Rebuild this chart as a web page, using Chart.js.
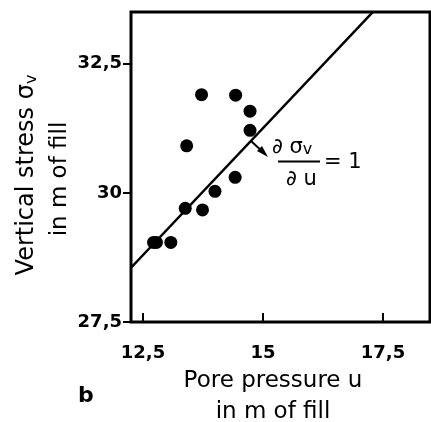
<!DOCTYPE html>
<html lang="en">
<head>
<meta charset="UTF-8">
<title>Vertical stress vs pore pressure</title>
<script src="https://cdn.jsdelivr.net/npm/chart.js"></script>
<style>
    html, body { margin: 0; padding: 0; background: #fff; }
    #wrap { width: 431px; height: 422px; }
</style>
</head>
<body>
<div id="wrap"><canvas id="stressChart" width="431" height="422"></canvas></div>
<script>
// measured points: pore pressure u and vertical stress σv (both in m of fill)
const poreU   = [12.72, 12.78, 13.08, 13.38, 13.74, 14.00, 14.42, 13.41, 13.72, 14.43, 14.73, 14.73];
const stressV = [29.04, 29.04, 29.04, 29.70, 29.67, 30.03, 30.30, 30.91, 31.90, 31.89, 31.58, 31.21];

// line with slope ∂σv/∂u = 1
const lineU      = [12.25, 17.35];
const lineStress = [28.55, 33.56];

// tick labels
const uTicks     = [12.5, 15, 17.5];
const sigmaTicks = [27.5, 30, 32.5];

const FONT = '"DejaVu Sans", sans-serif';

// 12.5 -> "12,5"
const commaDecimal = v => String(v).replace('.', ',');

// frame, inward ticks on the u axis, titles and the slope note
const extras = {
    id: 'extras',
    afterDraw(chart) {
        const ctx = chart.ctx;
        const { left, top, right, bottom } = chart.chartArea;
        const xs = chart.scales.x;
        ctx.save();
        ctx.strokeStyle = '#000';
        ctx.fillStyle = '#000';

        ctx.lineWidth = 3;
        ctx.strokeRect(left, top, right - left, bottom - top);

        ctx.lineWidth = 2;
        uTicks.forEach(v => {
            const px = xs.getPixelForValue(v);
            ctx.beginPath();
            ctx.moveTo(px, bottom);
            ctx.lineTo(px, bottom - 9);
            ctx.stroke();
        });

        // y title, two rotated lines
        ctx.textBaseline = 'alphabetic';
        ctx.save();
        ctx.translate(33, 175);
        ctx.rotate(-Math.PI / 2);
        ctx.font = `24px ${FONT}`;
        const main = 'Vertical stress σ';
        const w1 = ctx.measureText(main).width;
        ctx.font = `16px ${FONT}`;
        const w2 = ctx.measureText('v').width;
        const start = -(w1 + w2) / 2;
        ctx.font = `24px ${FONT}`;
        ctx.fillText(main, start, 0);
        ctx.font = `16px ${FONT}`;
        ctx.fillText('v', start + w1, 3);
        ctx.restore();

        ctx.save();
        ctx.translate(66, 179);
        ctx.rotate(-Math.PI / 2);
        ctx.font = `23px ${FONT}`;
        ctx.textAlign = 'center';
        ctx.fillText('in m of fill', 0, 0);
        ctx.restore();

        // x title
        ctx.font = `23px ${FONT}`;
        ctx.textAlign = 'center';
        ctx.fillText('Pore pressure u', 273, 387);
        ctx.fillText('in m of fill', 273, 418);

        ctx.font = `bold 22px ${FONT}`;
        ctx.textAlign = 'left';
        ctx.fillText('b', 78, 402);

        // ∂σv / ∂u = 1
        ctx.font = `21px ${FONT}`;
        ctx.fillText('∂ σ', 272, 153);
        const wn = ctx.measureText('∂ σ').width;
        ctx.font = `16px ${FONT}`;
        ctx.fillText('v', 272 + wn, 154);
        ctx.font = `21px ${FONT}`;
        ctx.fillText('∂ u', 286, 185);
        ctx.textBaseline = 'middle';
        ctx.fillText('= 1', 324, 163);
        ctx.beginPath();
        ctx.moveTo(278, 161.5);
        ctx.lineTo(320, 161.5);
        ctx.stroke();

        // arrow to the line
        ctx.beginPath();
        ctx.moveTo(251, 141);
        ctx.lineTo(264, 153);
        ctx.stroke();
        ctx.beginPath();
        ctx.moveTo(268, 157);
        ctx.lineTo(257, 151);
        ctx.lineTo(262, 146);
        ctx.closePath();
        ctx.fill();

        ctx.restore();
    }
};

const ctx = document.getElementById('stressChart').getContext('2d');
new Chart(ctx, {
    type: 'scatter',
    data: {
        datasets: [
            {
                label: 'measured',
                data: poreU.map((u, i) => ({ x: u, y: stressV[i] })),
                backgroundColor: '#000',
                borderWidth: 0,
                pointRadius: 6.5,
                pointHoverRadius: 6.5
            },
            {
                type: 'line',
                label: 'slope 1',
                data: lineU.map((u, i) => ({ x: u, y: lineStress[i] })),
                borderColor: '#000',
                borderWidth: 2.5,
                pointRadius: 0,
                fill: false
            }
        ]
    },
    options: {
        responsive: false,
        devicePixelRatio: 1,
        animation: false,
        layout: { autoPadding: false, padding: { top: 12, right: 1, left: 0, bottom: 0 } },
        plugins: {
            legend: { display: false },
            tooltip: { enabled: false }
        },
        scales: {
            x: {
                type: 'linear',
                min: 12.25,
                max: 18.48,
                afterBuildTicks: s => { s.ticks = uTicks.map(v => ({ value: v })); },
                afterFit: s => { s.height = 100; },
                grid: { display: false },
                border: { display: false },
                ticks: {
                    padding: 13,
                    color: '#000',
                    font: { family: FONT, size: 18, weight: 'bold' },
                    callback: commaDecimal
                }
            },
            y: {
                min: 27.5,
                max: 33.5,
                afterBuildTicks: s => { s.ticks = sigmaTicks.map(v => ({ value: v })); },
                afterFit: s => { s.width = 131; },
                grid: {
                    drawOnChartArea: false,
                    drawTicks: true,
                    tickLength: 8,
                    lineWidth: 2,
                    color: '#000'
                },
                border: { display: false },
                ticks: {
                    padding: 1,
                    color: '#000',
                    font: { family: FONT, size: 18, weight: 'bold' },
                    callback: commaDecimal
                }
            }
        }
    },
    plugins: [extras]
});
</script>
</body>
</html>
